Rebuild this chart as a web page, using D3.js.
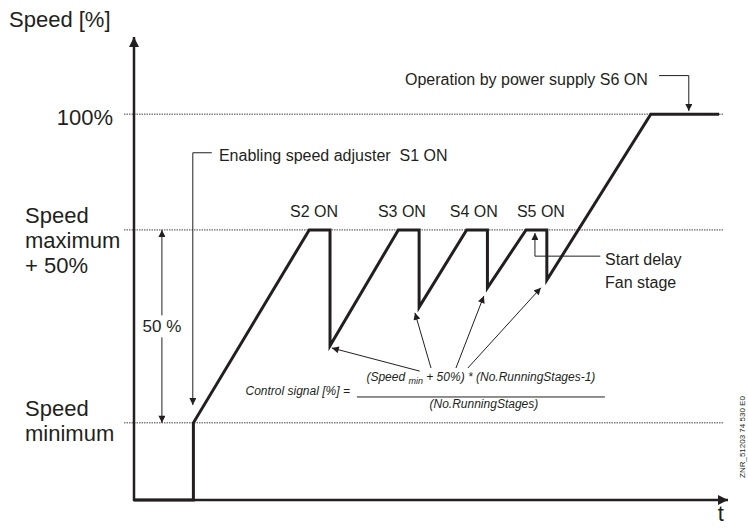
<!DOCTYPE html>
<html>
<head>
  <meta charset="utf-8">
  <title>Fan stage speed</title>
  <script src="https://cdn.jsdelivr.net/npm/d3@7"></script>
  <style>
    body { margin: 0; background: #fff; }
    text { font-family: "Liberation Sans", Arial, Helvetica, sans-serif; fill: #231f20; }
  </style>
</head>
<body>
  <svg width="748" height="532" id="mainsvg"></svg>
  <script>
    const svg = d3.select('#mainsvg');
    const width = +svg.attr('width');
    const height = +svg.attr('height');
    const margin = { top: 37, right: 20, bottom: 32, left: 134 };
    const innerWidth = width - margin.left - margin.right;
    const innerHeight = height - margin.top - margin.bottom;
    const ink = '#231f20';

    // speed signal, time in arbitrary units vs speed [%]
    const signalT = [0, 10, 10, 29.5, 33, 33, 44.5, 48, 48, 56, 59.5, 59.5, 66, 69.5, 69.5, 87, 98.5];
    const signalS = [0, 0, 20, 70, 70, 40, 70, 70, 50, 70, 70, 55, 70, 70, 57, 100, 100];

    // reference levels and their labels
    const levelValues = [100, 70, 20];
    const levelLabels = [['100%'], ['Speed', 'maximum', '+ 50%'], ['Speed', 'minimum']];

    // stage switch labels above the plateaus
    const stageLabels = ['S2 ON', 'S3 ON', 'S4 ON', 'S5 ON'];
    const stageT = [30.3, 45.1, 57.2, 68.5];

    // scales give page coordinates directly
    const xScale = d3.scaleLinear().domain([0, 100]).range([margin.left, margin.left + innerWidth]);
    const yScale = d3.scaleLinear().domain([0, 120]).range([margin.top + innerHeight, margin.top]);
    const X = d => xScale(d), Y = d => yScale(d);

    // arrow heads
    const defs = svg.append('defs');
    const marker = (id, len, wid) => defs.append('marker').attr('id', id)
      .attr('viewBox', '0 0 10 10').attr('refX', 10).attr('refY', 5)
      .attr('markerUnits', 'userSpaceOnUse').attr('markerWidth', len).attr('markerHeight', wid)
      .attr('orient', 'auto-start-reverse')
      .append('path').attr('d', 'M0,0L10,5L0,10Z').attr('fill', ink);
    marker('big', 12, 10);
    marker('small', 9, 7);

    // dotted level lines
    svg.selectAll('.level').data(levelValues).join('line').attr('class', 'level')
      .attr('x1', X(0) - 10).attr('x2', X(99.3))
      .attr('y1', d => Y(d)).attr('y2', d => Y(d))
      .attr('stroke', '#444').attr('stroke-width', 1).attr('stroke-dasharray', '1.5,1');

    // level labels on the left, one text per line
    const labelRows = levelValues.flatMap((v, i) => levelLabels[i].map((s, j) => ({
      s, single: levelLabels[i].length === 1,
      y: Y(v) + (levelLabels[i].length === 1 ? 11 : -7 + 25 * j)
    })));
    svg.selectAll('.levelLabel').data(labelRows).join('text').attr('class', 'levelLabel')
      .attr('font-size', 22)
      .attr('text-anchor', d => d.single ? 'end' : 'start')
      .attr('x', d => d.single ? X(0) - 21 : 25)
      .attr('y', d => d.y).text(d => d.s);

    // axes
    svg.append('line').attr('x1', X(0)).attr('x2', X(0)).attr('y1', Y(0) + 1).attr('y2', Y(120))
      .attr('stroke', ink).attr('stroke-width', 2.5).attr('marker-end', 'url(#big)');
    svg.append('line').attr('x1', X(0) - 1).attr('x2', X(100)).attr('y1', Y(0)).attr('y2', Y(0))
      .attr('stroke', ink).attr('stroke-width', 2.5).attr('marker-end', 'url(#big)');
    svg.append('text').attr('x', 9).attr('y', 27).attr('font-size', 22).text('Speed [%]');
    svg.append('text').attr('x', X(98.8)).attr('y', Y(-5.5)).attr('text-anchor', 'middle')
      .attr('font-size', 22).text('t');

    // signal
    const line = d3.line().x((d, i) => X(signalT[i])).y(d => Y(d));
    svg.append('path').datum(signalS).attr('d', line)
      .attr('fill', 'none').attr('stroke', ink).attr('stroke-width', 3).attr('stroke-linejoin', 'miter');

    // stage labels
    svg.selectAll('.stage').data(stageLabels).join('text').attr('class', 'stage')
      .attr('x', (d, i) => X(stageT[i])).attr('y', Y(73.4))
      .attr('text-anchor', 'middle').attr('font-size', 16).text(d => d);

    // annotation lines
    const thin = pts => svg.append('path')
      .attr('d', d3.line().x(p => X(p[0])).y(p => Y(p[1]))(pts))
      .attr('fill', 'none').attr('stroke', ink).attr('stroke-width', 1)
      .attr('marker-end', 'url(#small)');

    thin([[13.1, 90], [9.9, 90], [9.9, 24.6]]);
    svg.append('text').attr('x', X(14.3)).attr('y', Y(87.9)).attr('font-size', 16)
      .style('white-space', 'pre').text('Enabling speed adjuster  S1 ON');

    thin([[88.4, 110], [93.4, 110], [93.4, 100.8]]);
    svg.append('text').attr('x', X(86.5)).attr('y', Y(107.6)).attr('font-size', 16)
      .attr('text-anchor', 'end').text('Operation by power supply S6 ON');

    thin([[78.5, 63.2], [67.5, 63.2], [67.5, 69.2]]);
    svg.append('text').attr('x', X(79.3)).attr('y', Y(60.9)).attr('font-size', 16).text('Start delay');
    svg.append('text').attr('x', X(79.3)).attr('y', Y(55)).attr('font-size', 16).text('Fan stage');

    // 50 % span
    svg.append('line').attr('x1', X(4.7)).attr('x2', X(4.7)).attr('y1', Y(70)).attr('y2', Y(20))
      .attr('stroke', ink).attr('stroke-width', 1)
      .attr('marker-start', 'url(#small)').attr('marker-end', 'url(#small)');
    svg.append('rect').attr('x', X(4.7) - 21).attr('y', Y(45) - 11).attr('width', 42).attr('height', 22)
      .attr('fill', '#fff');
    svg.append('text').attr('x', X(4.7)).attr('y', Y(45) + 6).attr('text-anchor', 'middle')
      .attr('font-size', 17).text('50 %');

    // arrows from formula to the troughs
    thin([[48.1, 33.4], [33.3, 39.4]]);
    thin([[50, 34.2], [47.3, 48.5]]);
    thin([[54.2, 34.2], [58.9, 52.9]]);
    thin([[56.2, 34.2], [68.5, 55]]);

    // formula
    const fx = X(58.4), fy = Y(26.7);
    svg.append('line').attr('x1', fx - 124).attr('x2', fx + 124).attr('y1', fy).attr('y2', fy)
      .attr('stroke', ink).attr('stroke-width', 1);
    const formula = svg.append('g').attr('font-style', 'italic').attr('font-size', 12);
    formula.append('text').attr('x', fx - 131).attr('y', fy - 2).attr('text-anchor', 'end')
      .text('Control signal [%] =');
    const num = formula.append('text').attr('x', fx).attr('y', fy - 16).attr('text-anchor', 'middle');
    num.append('tspan').text('(Speed ');
    num.append('tspan').attr('font-size', 9).attr('dy', 3).text('min');
    num.append('tspan').attr('dy', -3).text(' + 50%) * (No.RunningStages-1)');
    formula.append('text').attr('x', fx + 3).attr('y', fy + 11).attr('text-anchor', 'middle')
      .text('(No.RunningStages)');

    // drawing number
    svg.append('text').attr('x', 745).attr('y', 478).attr('transform', 'rotate(-90, 745, 478)')
      .attr('font-size', 8).text('ZNR_51203 74 530 E0');
  </script>
</body>
</html>
